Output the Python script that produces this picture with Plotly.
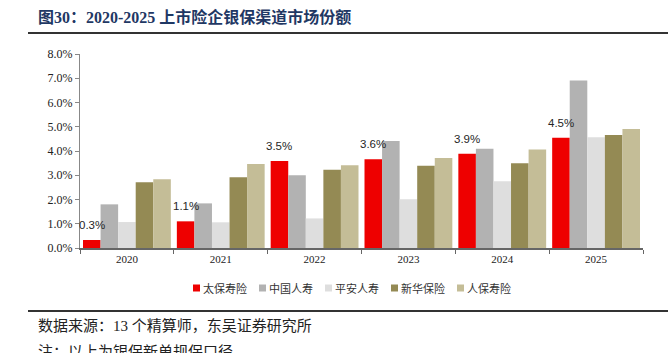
import plotly.graph_objects as go

years = ["2020", "2021", "2022", "2023", "2024", "2025"]
series_names = ["太保寿险", "中国人寿", "平安人寿", "新华保险", "人保寿险"]
taibao = [0.33, 1.10, 3.59, 3.66, 3.89, 4.55]
guoshou = [1.80, 1.84, 3.00, 4.41, 4.09, 6.91]
pingan = [1.07, 1.06, 1.22, 2.01, 2.75, 4.57]
xinhua = [2.71, 2.92, 3.23, 3.39, 3.49, 4.66]
renbao = [2.83, 3.46, 3.41, 3.71, 4.06, 4.91]
taibao_labels = ["0.3%", "1.1%", "3.5%", "3.6%", "3.9%", "4.5%"]
y_ticks = [0, 1, 2, 3, 4, 5, 6, 7, 8]

colors = ["#EE0000", "#B2B2B2", "#DEDEDE", "#948A54", "#C4BD97"]
values = [taibao, guoshou, pingan, xinhua, renbao]

W, H = 672, 353
L, R, T, B = 80, 29, 54, 105
PW, PH = W - L - R, H - T - B
BARGAP = 0.064

def px(x):
    return (x - L) / PW

def py(y):
    return (H - B - y) / PH

fig = go.Figure()
for name, col, vals in zip(series_names, colors, values):
    fig.add_trace(go.Bar(x=years, y=vals, name=name, marker=dict(color=col, line=dict(width=0)),
                         showlegend=False))

annotations = []
# data labels above the first series (太保寿险); x given as category index
cat_w = PW / len(years)
bar_w = cat_w * (1 - BARGAP) / len(series_names)
shift = -(len(series_names) - 1) / 2 * bar_w
for i, (v, t) in enumerate(zip(taibao, taibao_labels)):
    annotations.append(dict(x=i, y=v, xref="x", yref="y", text=t, showarrow=False,
                            xshift=shift, yshift=7, yanchor="bottom", xanchor="center",
                            font=dict(family="Liberation Sans, Arial", size=11.5, color="#262626")))

# title
annotations.append(dict(x=px(36), y=py(17), xref="paper", yref="paper", xanchor="left", yanchor="middle",
                        text="<b>图30：2020-2025 上市险企银保渠道市场份额</b>", showarrow=False,
                        font=dict(family="Liberation Serif, Noto Sans CJK SC", size=16, color="#1F3864")))
# footer
annotations.append(dict(x=px(36), y=py(325), xref="paper", yref="paper", xanchor="left", yanchor="middle",
                        text="数据来源：13 个精算师，东吴证券研究所", showarrow=False,
                        font=dict(family="Liberation Serif, Noto Sans CJK SC", size=15, color="#222222")))
annotations.append(dict(x=px(36), y=py(352), xref="paper", yref="paper", xanchor="left", yanchor="middle",
                        text="注：以上为银保新单规保口径", showarrow=False,
                        font=dict(family="Liberation Serif, Noto Sans CJK SC", size=15, color="#222222")))

shapes = [
    dict(type="line", xref="paper", yref="paper", x0=px(28), x1=px(668), y0=py(33), y1=py(33),
         line=dict(color="#333333", width=2)),
    dict(type="line", xref="paper", yref="paper", x0=px(28), x1=px(668), y0=py(311), y1=py(311),
         line=dict(color="#333333", width=2)),
]

# custom legend
leg_x0, leg_step, leg_y = 193, 66, 288
for i, (name, col) in enumerate(zip(series_names, colors)):
    x = leg_x0 + i * leg_step
    shapes.append(dict(type="rect", xref="paper", yref="paper", x0=px(x), x1=px(x + 7),
                       y0=py(leg_y + 3.5), y1=py(leg_y - 3.5), fillcolor=col, line=dict(width=0)))
    annotations.append(dict(x=px(x + 8), y=py(leg_y), xref="paper", yref="paper", xanchor="left",
                            yanchor="middle", text=name, showarrow=False,
                            font=dict(family="Noto Sans CJK SC", size=11, color="#333333")))

fig.update_layout(
    width=W, height=H,
    margin=dict(l=L, r=R, t=T, b=B),
    paper_bgcolor="white", plot_bgcolor="white",
    barmode="group", bargap=BARGAP, bargroupgap=0,
    showlegend=False,
    annotations=annotations, shapes=shapes,
    xaxis=dict(type="category", showline=True, linecolor="#666666", linewidth=1.5, ticks="outside",
               tickson="boundaries", ticklen=4, tickcolor="#666666", showgrid=False,
               range=[-0.5, len(years) - 0.5],
               tickfont=dict(family="Liberation Serif, Times New Roman", size=11, color="#222222")),
    yaxis=dict(range=[0, 8], tickvals=y_ticks, ticktext=[f"{v:.1f}%" for v in y_ticks],
               showline=True, linecolor="#888888", linewidth=1, ticks="outside", ticklen=4,
               tickcolor="#888888", showgrid=False, zeroline=False,
               tickfont=dict(family="Liberation Serif, Times New Roman", size=12, color="#222222")),
)

fig.write_html("out.html")
